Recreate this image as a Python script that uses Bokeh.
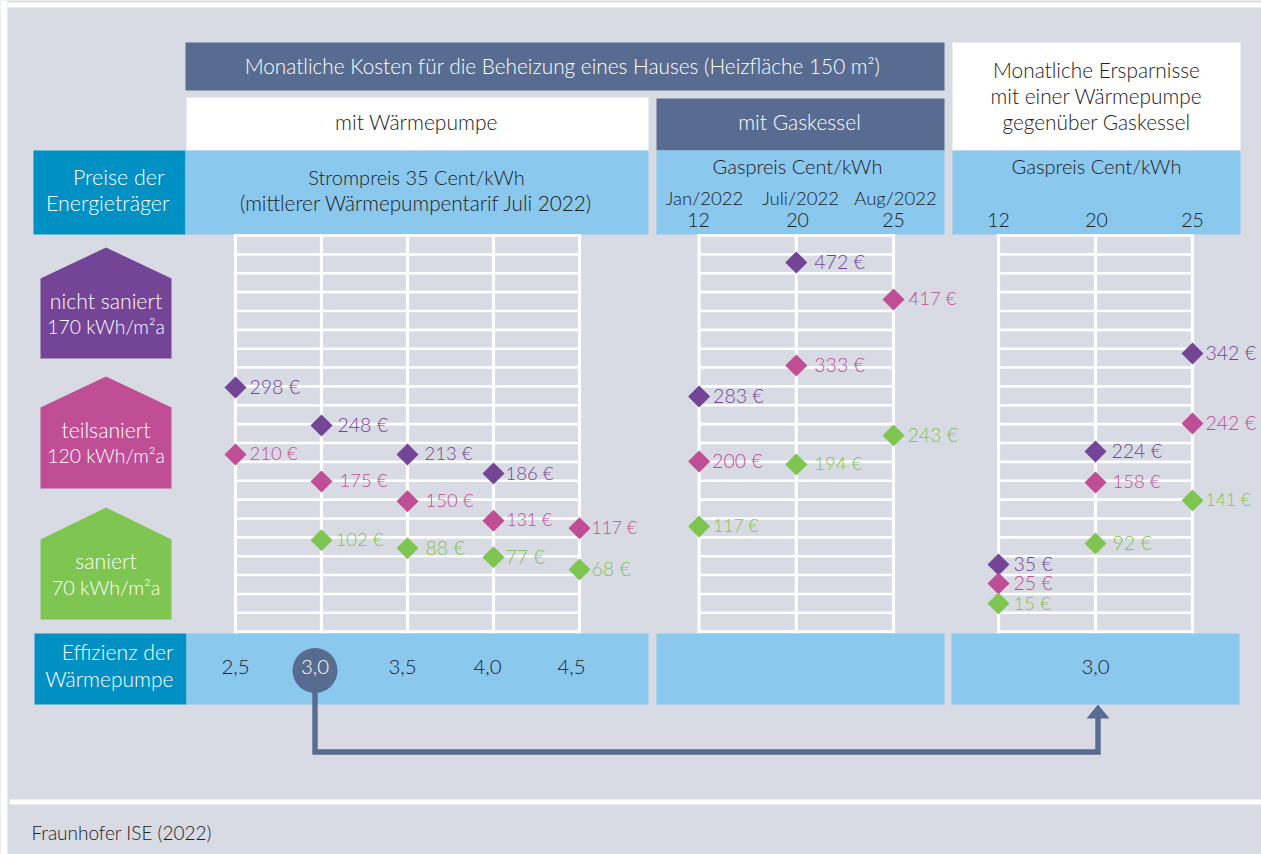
from bokeh.plotting import figure
from bokeh.models import Range1d, ColumnDataSource
from bokeh.core.properties import value
from bokeh.embed import file_html
from bokeh.resources import INLINE

# ---------- data ----------
cop_ticks = [2.5, 3.0, 3.5, 4.0, 4.5]
cop_labels = ["2,5", "3,0", "3,5", "4,0", "4,5"]
gas_prices = ["12", "20", "25"]
gas_months = ["Jan/2022", "Juli/2022", "Aug/2022"]
grid_eur = [-25, 0, 25, 50, 75, 100, 125, 150, 175, 200, 225, 250, 275, 300, 325, 350,
            375, 400, 425, 450, 475, 500]

# heat pump panel: COP, printed euro value, height at which the marker is drawn (on the euro grid)
hp_purple_cop = [2.5, 3.0, 3.5, 4.0]
hp_purple_eur = [298, 248, 213, 186]
hp_purple_pos = [298.6, 248.3, 209.8, 184.6]
hp_pink_cop = [2.5, 3.0, 3.5, 4.0, 4.5]
hp_pink_eur = [210, 175, 150, 131, 117]
hp_pink_pos = [209.8, 174.0, 147.9, 122.0, 112.1]
hp_green_cop = [3.0, 3.5, 4.0, 4.5]
hp_green_eur = [102, 88, 77, 68]
hp_green_pos = [96.2, 85.6, 73.7, 57.4]

# gas boiler panel: index of gas price
gas_purple_idx = [0, 1]
gas_purple_eur = [283, 472]
gas_purple_pos = [286.7, 464.3]
gas_pink_idx = [0, 1, 2]
gas_pink_eur = [200, 333, 417]
gas_pink_pos = [200.6, 327.8, 415.3]
gas_green_idx = [0, 1, 2]
gas_green_eur = [117, 194, 243]
gas_green_pos = [114.4, 196.6, 235.0]

# savings panel
sav_purple_idx = [0, 1, 2]
sav_purple_eur = [35, 224, 342]
sav_purple_pos = [64.0, 213.8, 343.7]
sav_pink_idx = [0, 1, 2]
sav_pink_eur = [25, 158, 242]
sav_pink_pos = [38.8, 172.7, 250.9]
sav_green_idx = [0, 1, 2]
sav_green_eur = [15, 92, 141]
sav_green_pos = [12.3, 91.9, 148.9]

# ---------- style ----------
BG = "#d8dbe3"
DARK = "#586b90"
SKY = "#8ac8ee"
TEAL = "#0090c3"
PURPLE = "#744496"
PINK = "#bf4e94"
GREEN = "#7fc552"
INK = "#1e2024"
FONT = "Lato Light"
FS = "20.4px"
FS_VAL = 19.5

W, H = 1261, 854
OX, OY = 0, 0

p = figure(width=W, height=H, x_range=Range1d(OX, OX + W), y_range=Range1d(OY + H, OY),
           x_axis_type=None, y_axis_type=None, toolbar_location=None, output_backend="svg",
           min_border=0, outline_line_color=None,
           background_fill_color=BG, border_fill_color=BG)
p.grid.visible = False


def scale(name, px_a, val_a, px_b, val_b, vertical=False):
    k = (val_b - val_a) / (px_b - px_a)
    if vertical:
        r = Range1d(val_a + (OY + H - px_a) * k, val_a + (OY - px_a) * k)
        p.extra_y_ranges[name] = r
    else:
        r = Range1d(val_a + (OX - px_a) * k, val_a + (OX + W - px_a) * k)
        p.extra_x_ranges[name] = r


scale("cop", 235, 2.5, 579, 4.5)
scale("gas", 698.6, 0, 893, 2)
scale("sav", 998, 0, 1192, 2)
scale("eur", 612.3, 0, 235, 500, vertical=True)


def box(x0, x1, y0, y1, color):
    p.quad(left=x0, right=x1, top=y0, bottom=y1, fill_color=color, line_color=None)


def label(x, y, txt, color=INK, align="center", size=FS):
    p.text(x=[x], y=[y - 2], text=[txt], text_color=color, text_align=align,
           text_baseline="middle", text_font=value(FONT), text_font_size=size)


# page margins and separator bands
box(0, 7, 0, H, "#ffffff")
box(7, W, 2, 7, "#ffffff")
box(9, W, 799, 804, "#ffffff")

# header blocks
box(185, 944, 42, 90, DARK)
box(186, 648, 97, 150, "#ffffff")
box(656, 944, 98, 150, DARK)
box(952, 1240, 42, 150, "#ffffff")
box(33, 185, 150, 234, TEAL)
box(185, 648, 150, 234, SKY)
box(656, 944, 150, 234, SKY)
box(952, 1240, 150, 234, SKY)
box(34, 186, 633, 704, TEAL)
box(186, 648, 633, 704, SKY)
box(656, 944, 633, 704, SKY)
box(951, 1239, 633, 704, SKY)

# houses
for apex, shoulder, bottom, col in [(247, 278, 358, PURPLE), (376, 407, 488, PINK), (507, 539, 619, GREEN)]:
    p.patch(x=[40, 105.5, 171, 171, 40], y=[shoulder, apex, shoulder, bottom, bottom],
            fill_color=col, line_color=None)


# grids
def grid(ticks, xname):
    p.segment(x0=[ticks[0]] * len(grid_eur), x1=[ticks[-1]] * len(grid_eur), y0=grid_eur, y1=grid_eur,
              x_range_name=xname, y_range_name="eur", line_color="#ffffff", line_width=2.6,
              line_cap="square")
    p.segment(x0=ticks, x1=ticks, y0=[grid_eur[0]] * len(ticks), y1=[grid_eur[-1]] * len(ticks),
              x_range_name=xname, y_range_name="eur", line_color="#ffffff", line_width=3.2,
              line_cap="square")


grid(cop_ticks, "cop")
grid(list(range(len(gas_prices))), "gas")
grid(list(range(len(gas_prices))), "sav")

# label offsets from the marker centre, px
hp_purple_dx = [14, 16, 17, 12]
hp_pink_dx = [14, 18, 18, 13, 12]
hp_green_dx = [14, 18, 12, 12]
gas_purple_dx = [14, 18]
gas_pink_dx = [13, 18, 15]
gas_green_dx = [14, 18, 14]
sav_purple_dx = [15, 16, 13]
sav_pink_dx = [15, 17, 13]
sav_green_dx = [15, 17, 13]


def series(xs, eur, pos, dx, color, xname):
    texts = [f"{v} €" for v in eur]
    # Lato's figure "1" is wider than the reference's, so labels holding it are set slightly smaller
    sizes = [f"{FS_VAL - 1.0 * t.count('1')}px" for t in texts]
    src = ColumnDataSource(dict(x=xs, y=pos, t=texts, dx=dx, fs=sizes))
    p.scatter("x", "y", source=src, marker="square", angle=0.7854, size=15.6, fill_color=color,
              line_color=None, x_range_name=xname, y_range_name="eur")
    p.text("x", "y", text="t", source=src, x_offset="dx", y_offset=-1, text_color=color,
           text_align="left", text_baseline="middle", text_font=value(FONT), text_font_size="fs",
           x_range_name=xname, y_range_name="eur")


series(hp_purple_cop, hp_purple_eur, hp_purple_pos, hp_purple_dx, PURPLE, "cop")
series(hp_pink_cop, hp_pink_eur, hp_pink_pos, hp_pink_dx, PINK, "cop")
series(hp_green_cop, hp_green_eur, hp_green_pos, hp_green_dx, GREEN, "cop")
series(gas_purple_idx, gas_purple_eur, gas_purple_pos, gas_purple_dx, PURPLE, "gas")
series(gas_pink_idx, gas_pink_eur, gas_pink_pos, gas_pink_dx, PINK, "gas")
series(gas_green_idx, gas_green_eur, gas_green_pos, gas_green_dx, GREEN, "gas")
series(sav_purple_idx, sav_purple_eur, sav_purple_pos, sav_purple_dx, PURPLE, "sav")
series(sav_pink_idx, sav_pink_eur, sav_pink_pos, sav_pink_dx, PINK, "sav")
series(sav_green_idx, sav_green_eur, sav_green_pos, sav_green_dx, GREEN, "sav")

# arrow
p.line(x=[314.5, 314.5, 1097.5, 1097.5], y=[690, 751.5, 751.5, 716], line_color=DARK, line_width=5.4,
       line_join="miter")
p.patch(x=[1086, 1097.5, 1109], y=[718, 704, 718], fill_color=DARK, line_color=None)
p.ellipse(x=[314.5], y=[670], width=[45], height=[45], fill_color=DARK, line_color=None)

# texts
W_ = "#ffffff"
label(562, 67, "Monatliche Kosten für die Beheizung eines Hauses (Heizfläche 150 m²)", W_, size="20.8px")
label(416, 123, "mit Wärmepumpe", size="21px")
label(799, 123, "mit Gaskessel", W_, size="21px")
label(1096, 71, "Monatliche Ersparnisse", size="20.8px")
label(1096, 97, "mit einer Wärmepumpe", size="20.8px")
label(1096, 123, "gegenüber Gaskessel", size="20.8px")
label(164, 178, "Preise der", W_, "right", size="21.4px")
label(169, 204, "Energieträger", W_, "right", size="21.4px")
label(416, 178, "Strompreis 35 Cent/kWh", size="20px")
label(416, 204, "(mittlerer Wärmepumpentarif Juli 2022)", size="20.7px")
label(797, 167, "Gaspreis Cent/kWh", size="20px")
label(1096, 167, "Gaspreis Cent/kWh", size="20px")
for x, t in zip([704, 800, 895], gas_months):
    label(x, 199, t, size="18.5px")
for x, t in zip([698, 797, 893], gas_prices):
    label(x, 221, t, size="19.5px")
for x, t in zip([998, 1096, 1192], gas_prices):
    label(x, 221, t, size="19.5px")
label(173, 653, "Effizienz der", W_, "right", size="21.2px")
label(173, 680, "Wärmepumpe", W_, "right", size="21px")
for x, t in zip([235, 314.5, 402, 487, 571], cop_labels):
    label(x, 668, t, W_ if t == "3,0" else INK)
label(1095, 668, "3,0")
label(105.5, 302, "nicht saniert", W_, size="21.2px")
label(105.5, 328, "170 kWh/m²a", W_, size="19.4px")
label(105.5, 431, "teilsaniert", W_, size="21.2px")
label(105.5, 457, "120 kWh/m²a", W_, size="19.4px")
label(105.5, 562, "saniert", W_, size="21.2px")
label(105.5, 588, "70 kWh/m²a", W_, size="19.8px")
label(31, 834, "Fraunhofer ISE (2022)", INK, "left", "19px")

open("out.html", "w").write(file_html(p, INLINE))
